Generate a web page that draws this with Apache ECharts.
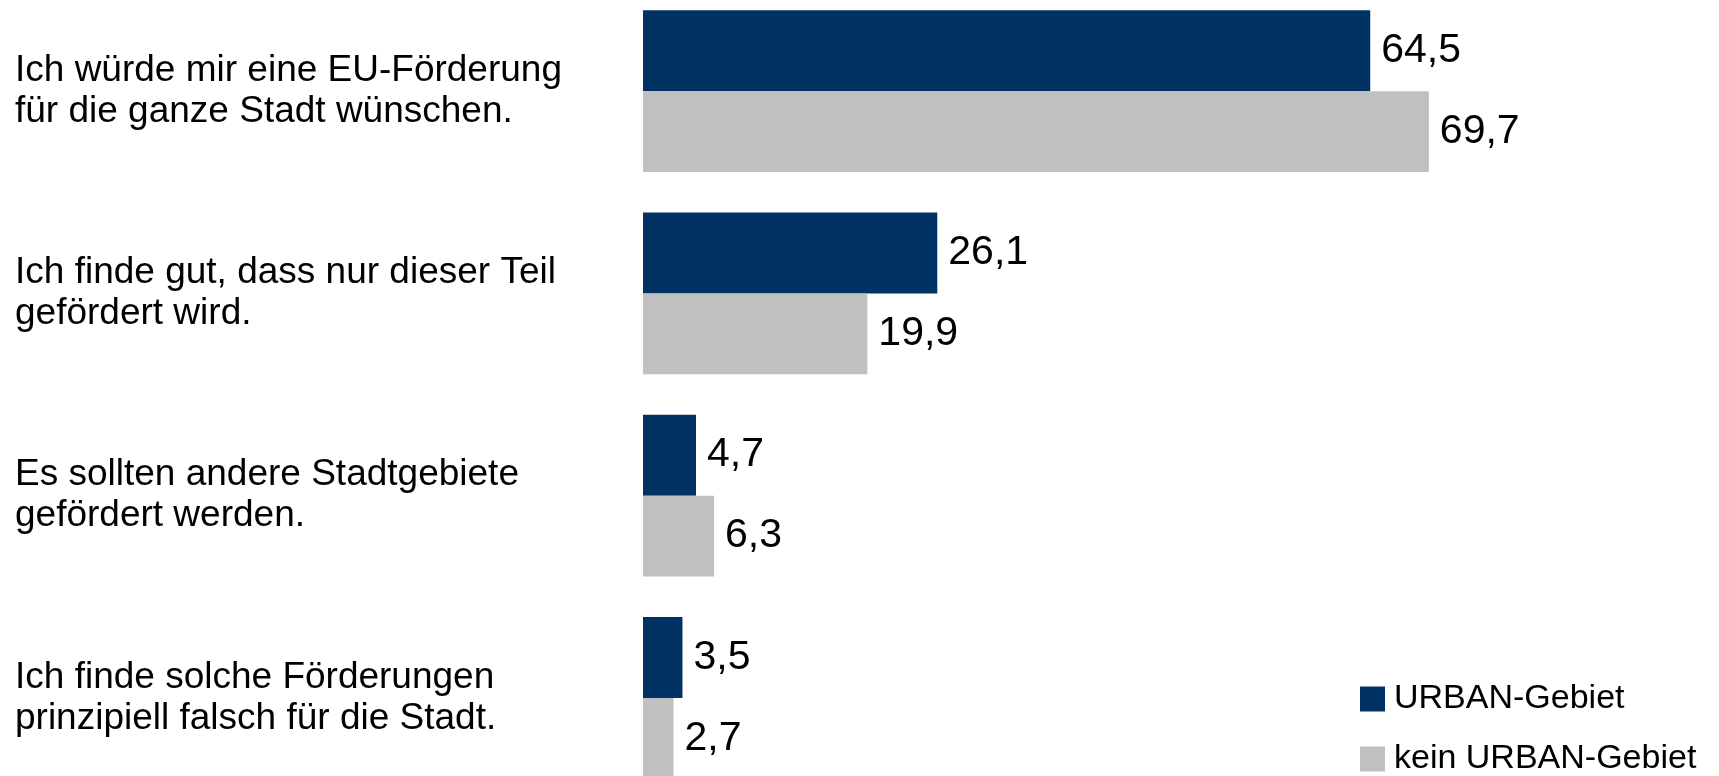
<!DOCTYPE html>
<html lang="de">
<head>
    <meta charset="UTF-8">
    <title>EU-Förderung</title>
    <script src="https://cdn.jsdelivr.net/npm/echarts@6/dist/echarts.min.js"></script>
    <style>
        html, body { margin: 0; padding: 0; background: #fff; overflow: hidden; }
        /* die Balken reichen oben und unten über den Rand hinaus */
        #container { position: absolute; left: 0; top: -10px; width: 1719px; height: 809px; }
    </style>
</head>
<body>
<div id="container"></div>
<script>

    var categories = [
        'Ich würde mir eine EU-Förderung\nfür die ganze Stadt wünschen.',
        'Ich finde gut, dass nur dieser Teil\ngefördert wird.',
        'Es sollten andere Stadtgebiete\ngefördert werden.',
        'Ich finde solche Förderungen\nprinzipiell falsch für die Stadt.'
    ];
    var urban = [64.5, 26.1, 4.7, 3.5];
    var keinUrban = [69.7, 19.9, 6.3, 2.7];
    var seriesNames = ['URBAN-Gebiet', 'kein URBAN-Gebiet'];

    var font = "'Liberation Sans', Arial, sans-serif";

    var dom = document.getElementById("container");
    var myChart = echarts.init(dom);

    // Wert mit Komma als Dezimaltrenner
    var fmt = function (params) {
        return String(params.value).replace('.', ',');
    };

    var valueLabel = {
        show: true,
        position: 'right',
        distance: 11,
        formatter: fmt,
        color: '#000',
        fontSize: 41,
        fontFamily: font
    };

    myChart.setOption({
        backgroundColor: '#fff',
        animation: false,
        grid: {
            left: 643,
            right: 174,
            top: 0,
            bottom: 0,
            containLabel: false
        },
        legend: {
            orient: 'vertical',
            left: 1355,
            top: 687,
            height: 115,
            itemWidth: 25,
            itemHeight: 25,
            itemGap: 26,
            icon: 'rect',
            data: seriesNames,
            textStyle: {
                color: '#000',
                fontSize: 34,
                fontFamily: font,
                padding: [0, 0, 0, 4]
            }
        },
        xAxis: {
            type: 'value',
            min: 0,
            max: 80,
            show: false
        },
        yAxis: {
            type: 'category',
            inverse: true,
            data: categories,
            axisLine: {show: false},
            axisTick: {show: false},
            splitLine: {show: false},
            axisLabel: {
                align: 'left',
                margin: 628,
                color: '#000',
                fontSize: 37,
                lineHeight: 41,
                padding: [4, 0, 0, 0],
                fontFamily: font
            }
        },
        series: [
            {
                name: seriesNames[0],
                type: 'bar',
                barGap: '0%',
                barCategoryGap: '20%',
                itemStyle: {color: '#003264'},
                label: valueLabel,
                data: urban
            },
            {
                name: seriesNames[1],
                type: 'bar',
                barGap: '0%',
                barCategoryGap: '20%',
                itemStyle: {color: '#c0c0c0'},
                label: valueLabel,
                data: keinUrban
            }
        ]
    });

</script>
</body>
</html>
